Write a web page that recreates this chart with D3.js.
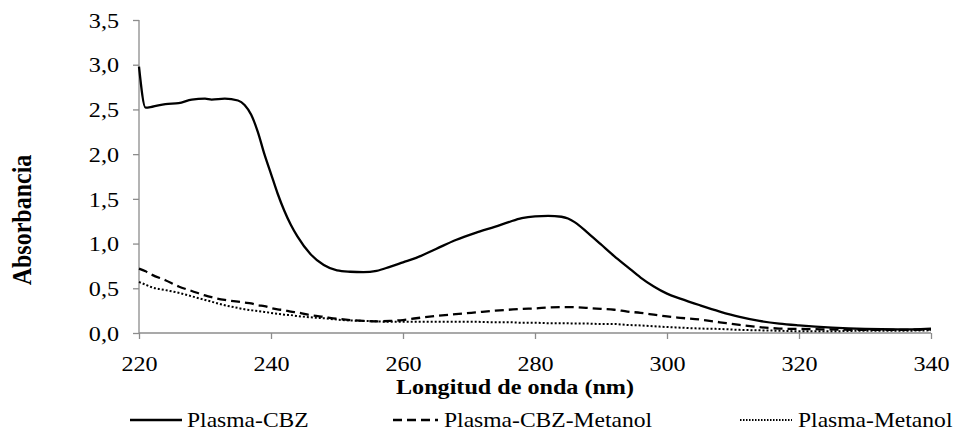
<!DOCTYPE html>
<html>
<head>
<meta charset="utf-8">
<script src="https://cdn.jsdelivr.net/npm/d3@7"></script>
<style>
  body { margin: 0; background: #fff; }
  text { font-family: "Liberation Serif", "Times New Roman", serif; fill: #000; }
</style>
</head>
<body>
<div id="chart"></div>
<script>
// wavelengths (nm) shared by the three spectra
var wavelengths = [220, 221, 222, 224, 226, 228, 230, 231, 233, 235, 236, 237, 238, 239, 240, 241, 242, 243, 244, 246, 248, 250, 252, 254, 256, 258, 260, 262, 265, 268, 271, 274, 276, 278, 280, 282, 284, 285, 286, 288, 290, 292, 294, 296, 298, 300, 302, 305, 308, 311, 314, 317, 320, 325, 330, 335, 340]

var plasmaCBZ = [2.98, 2.52, 2.53, 2.56, 2.57, 2.61, 2.62, 2.61, 2.62, 2.60, 2.55, 2.44, 2.25, 2.00, 1.78, 1.56, 1.37, 1.21, 1.08, 0.88, 0.76, 0.70, 0.685, 0.68, 0.695, 0.74, 0.79, 0.84, 0.94, 1.04, 1.12, 1.19, 1.24, 1.285, 1.305, 1.31, 1.30, 1.28, 1.24, 1.12, 0.99, 0.86, 0.74, 0.62, 0.52, 0.44, 0.385, 0.31, 0.24, 0.18, 0.135, 0.105, 0.085, 0.06, 0.045, 0.04, 0.05]

var plasmaCBZMetanol = [0.72, 0.69, 0.65, 0.59, 0.52, 0.47, 0.42, 0.40, 0.37, 0.35, 0.34, 0.33, 0.31, 0.30, 0.28, 0.265, 0.255, 0.24, 0.23, 0.20, 0.18, 0.16, 0.145, 0.135, 0.13, 0.135, 0.145, 0.165, 0.19, 0.21, 0.23, 0.25, 0.26, 0.27, 0.275, 0.285, 0.29, 0.29, 0.288, 0.28, 0.27, 0.26, 0.24, 0.225, 0.205, 0.185, 0.17, 0.15, 0.12, 0.09, 0.065, 0.05, 0.045, 0.04, 0.035, 0.035, 0.04]

var plasmaMetanol = [0.57, 0.54, 0.51, 0.48, 0.45, 0.41, 0.37, 0.35, 0.31, 0.28, 0.265, 0.255, 0.245, 0.235, 0.225, 0.215, 0.205, 0.20, 0.19, 0.175, 0.165, 0.15, 0.14, 0.135, 0.13, 0.125, 0.125, 0.125, 0.125, 0.125, 0.125, 0.12, 0.12, 0.115, 0.115, 0.11, 0.11, 0.11, 0.105, 0.105, 0.10, 0.10, 0.09, 0.085, 0.075, 0.067, 0.06, 0.05, 0.045, 0.035, 0.03, 0.025, 0.02, 0.02, 0.025, 0.025, 0.03]

var seriesNames = ['Plasma-CBZ', 'Plasma-CBZ-Metanol', 'Plasma-Metanol']
var xTicks = [220, 240, 260, 280, 300, 320, 340]
var yTicks = [0, 0.5, 1, 1.5, 2, 2.5, 3, 3.5]

var width = 960
var height = 432
var margin = { top: 20, right: 29, bottom: 99, left: 139 }
var innerW = width - margin.left - margin.right
var innerH = height - margin.top - margin.bottom
var stretch = 1.15 // the source text is a bit wider than the font

var svg = d3
  .select('#chart')
  .append('svg')
  .attr('width', width)
  .attr('height', height)

var g = svg
  .append('g')
  .attr('transform', 'translate(' + margin.left + ',' + margin.top + ')')

var x = d3.scaleLinear().domain([220, 340]).range([0, innerW])
var y = d3.scaleLinear().domain([0, 3.5]).range([innerH, 0])

var fmt = function (d) { return d3.format('.1f')(d).replace('.', ',') }

// axes
var axisColor = '#8c8c8c'
var yAxis = g
  .append('g')
  .call(d3.axisLeft(y).tickValues(yTicks).tickSize(6).tickFormat(fmt))
var xAxis = g
  .append('g')
  .attr('transform', 'translate(0,' + innerH + ')')
  .call(d3.axisBottom(x).tickValues(xTicks).tickSize(6).tickFormat(d3.format('d')))

;[xAxis, yAxis].forEach(function (ax) {
  ax.select('.domain').attr('stroke', axisColor).attr('stroke-width', 1.3)
  ax.selectAll('.tick line').attr('stroke', axisColor).attr('stroke-width', 1.3)
  ax.selectAll('.tick text')
    .attr('font-family', '"Liberation Serif", serif')
    .attr('font-size', 21)
    .attr('fill', '#000')
})
yAxis.selectAll('.tick text')
  .attr('x', 0)
  .attr('dy', '0.34em')
  .attr('transform', 'translate(-20,0) scale(' + stretch + ',1)')
xAxis.selectAll('.tick text')
  .attr('y', 0)
  .attr('dy', 0)
  .attr('transform', 'translate(0,38) scale(' + stretch + ',1)')

// x axis domain has no end ticks
xAxis.select('.domain').attr('d', 'M0,0H' + innerW)
yAxis.select('.domain').attr('d', 'M0,0V' + innerH)

// lines
var line = d3.line()
  .x(function (d, i) { return x(wavelengths[i]) })
  .y(function (d) { return y(d) })
  .curve(d3.curveMonotoneX)

var styles = [
  { data: plasmaCBZ, dash: null, w: 2.3 },
  { data: plasmaCBZMetanol, dash: '9,5', w: 2.3 },
  { data: plasmaMetanol, dash: '2,2', w: 2 }
]

styles.forEach(function (s) {
  g.append('path')
    .datum(s.data)
    .attr('fill', 'none')
    .attr('stroke', '#000')
    .attr('stroke-width', s.w)
    .attr('stroke-dasharray', s.dash)
    .attr('d', line)
})

// axis titles
svg.append('text')
  .attr('transform', 'translate(' + (margin.left + innerW / 2 - 20) + ',394) scale(' + stretch + ',1)')
  .attr('text-anchor', 'middle')
  .attr('font-size', 21)
  .attr('font-weight', 'bold')
  .text('Longitud de onda (nm)')

svg.append('text')
  .attr('transform', 'translate(31,220) rotate(-90) scale(1,' + stretch + ')')
  .attr('text-anchor', 'middle')
  .attr('font-size', 24)
  .attr('font-weight', 'bold')
  .text('Absorbancia')

// legend
var legendX = [130, 393, 740]
var legendLen = [52, 45, 52]
var legendGap = [5, 6, 6]
var legend = svg.append('g')
seriesNames.forEach(function (name, i) {
  var lg = legend.append('g').attr('transform', 'translate(' + legendX[i] + ',420)')
  lg.append('line')
    .attr('x1', 0)
    .attr('x2', legendLen[i])
    .attr('y1', 0)
    .attr('y2', 0)
    .attr('stroke', '#000')
    .attr('stroke-width', styles[i].w)
    .attr('stroke-dasharray', i === 2 ? '1.5,1.5' : styles[i].dash)
  lg.append('text')
    .attr('transform', 'translate(' + (legendLen[i] + legendGap[i]) + ',7) scale(' + stretch + ',1)')
    .attr('font-size', 20.5)
    .text(name)
})
</script>
</body>
</html>
